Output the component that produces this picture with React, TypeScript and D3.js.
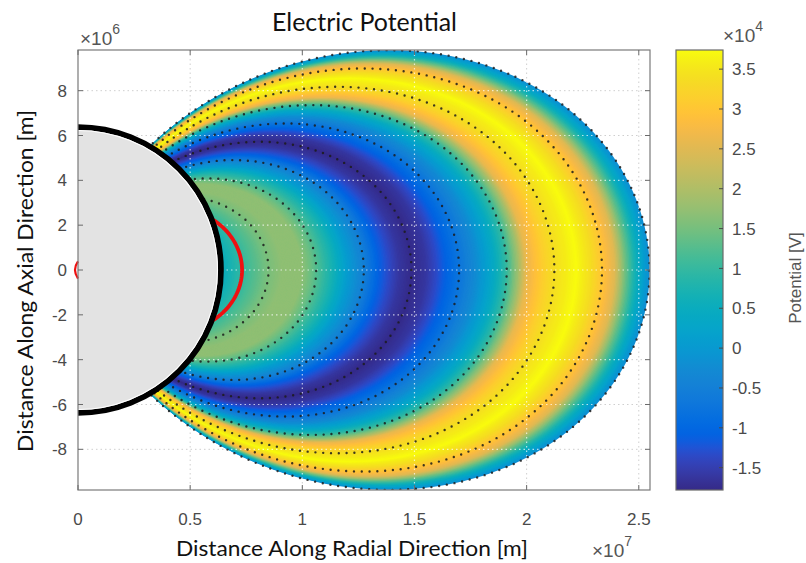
import React from 'react';
import * as d3 from 'd3';

// ---------- data ----------
const RE = 6.371e6; // Earth radius [m]
const xTicks = [0, 0.5, 1, 1.5, 2, 2.5]; // ×1e7 m
const yTicks = [-8, -6, -4, -2, 0, 2, 4, 6, 8]; // ×1e6 m
const cbTicks = [-1.5, -1, -0.5, 0, 0.5, 1, 1.5, 2, 2.5, 3, 3.5]; // ×1e4 V
const xLim = [0, 2.55e7];
const yLim = [-9.815e6, 9.815e6];
const cLim = [-1.78, 3.74]; // ×1e4 V

// potential read along the equator, by dipole L-shell (Earth radii)
const shellL = [1.0, 1.15, 1.32, 1.43, 1.57, 1.65, 1.8, 1.89, 1.99, 2.11, 2.25, 2.34, 2.44, 2.51, 2.65, 2.79, 2.9, 3.0, 3.08, 3.14, 3.25, 3.32, 3.49, 3.6, 3.67, 3.76, 3.83, 3.9, 3.97, 4.0];
const shellPotential = [0.45, 0.98, 1.5, 1.7, 1.7, 1.35, 0.6, 0.05, -0.4, -1.1, -1.6, -1.76, -1.6, -1.35, -0.8, -0.23, 0.32, 0.98, 1.8, 2.6, 3.1, 3.35, 3.74, 3.35, 3.0, 2.5, 1.5, 0.7, 0.05, -0.2];

const outerShell = 4.0; // domain boundary
const contourShells = [4 / 3, 5 / 3, 2, 7 / 3, 8 / 3, 3, 10 / 3, 11 / 3, 4]; // dotted lines
const redShell = 1.148;

// MATLAB parula colormap
const parulaRGB = [
  [0.2081, 0.1663, 0.5292], [0.2116, 0.1898, 0.5777], [0.2123, 0.2138, 0.627], [0.2081, 0.2386, 0.6771],
  [0.1959, 0.2645, 0.7279], [0.1707, 0.2919, 0.7792], [0.1253, 0.3242, 0.8303], [0.0591, 0.3598, 0.8683],
  [0.0117, 0.3875, 0.882], [0.006, 0.4086, 0.8828], [0.0165, 0.4266, 0.8786], [0.0329, 0.443, 0.872],
  [0.0498, 0.4586, 0.8641], [0.0629, 0.4737, 0.8554], [0.0723, 0.4887, 0.8467], [0.0779, 0.504, 0.8384],
  [0.0793, 0.52, 0.8312], [0.0749, 0.5375, 0.8263], [0.0641, 0.557, 0.824], [0.0488, 0.5772, 0.8228],
  [0.0343, 0.5966, 0.8199], [0.0265, 0.6137, 0.8135], [0.0239, 0.6287, 0.8038], [0.0231, 0.6418, 0.7913],
  [0.0228, 0.6535, 0.7768], [0.0267, 0.6642, 0.7607], [0.0384, 0.6743, 0.7436], [0.059, 0.6838, 0.7254],
  [0.0843, 0.6928, 0.7062], [0.1133, 0.7015, 0.6859], [0.1453, 0.7098, 0.6646], [0.1801, 0.7177, 0.6424],
  [0.2178, 0.725, 0.6193], [0.2586, 0.7317, 0.5954], [0.3022, 0.7376, 0.5712], [0.3482, 0.7424, 0.5473],
  [0.3953, 0.7459, 0.5244], [0.442, 0.7481, 0.5033], [0.4871, 0.7491, 0.484], [0.53, 0.7491, 0.4661],
  [0.5709, 0.7485, 0.4494], [0.6099, 0.7473, 0.4337], [0.6473, 0.7456, 0.4188], [0.6834, 0.7435, 0.4044],
  [0.7184, 0.7411, 0.3905], [0.7525, 0.7384, 0.3768], [0.7858, 0.7356, 0.3633], [0.8185, 0.7327, 0.3498],
  [0.8507, 0.7299, 0.336], [0.8824, 0.7274, 0.3217], [0.9139, 0.7258, 0.3063], [0.945, 0.7261, 0.2886],
  [0.9739, 0.7314, 0.2666], [0.9938, 0.7455, 0.2403], [0.999, 0.7653, 0.2164], [0.9955, 0.7861, 0.1967],
  [0.988, 0.8066, 0.1794], [0.9789, 0.8271, 0.1633], [0.9697, 0.8481, 0.1475], [0.9626, 0.8705, 0.1309],
  [0.9589, 0.8949, 0.1132], [0.9598, 0.9218, 0.0948], [0.9661, 0.9514, 0.0755], [0.9763, 0.9831, 0.0538],
];

// ---------- layout ----------
const W = 806, H = 563;
const PL = 78, PR = 650, PT = 50, PB = 490;
const CBL = 676, CBR = 723;
const TICK_FONT = "'Liberation Sans', Arial, Helvetica, sans-serif";
const LABEL_FONT = "Lato, 'Open Sans', sans-serif";

function fieldLine(Lm: number, n = 240): [number, number][] {
  const pts: [number, number][] = [];
  for (let i = 0; i <= n; i++) {
    const lam = -Math.PI / 2 + (Math.PI * i) / n;
    const c = Math.cos(lam);
    pts.push([Lm * c * c * c, Lm * c * c * Math.sin(lam)]);
  }
  return pts;
}

export default function App() {
  const x = d3.scaleLinear().domain(xLim).range([PL, PR]);
  const y = d3.scaleLinear().domain(yLim).range([PB, PT]);
  const cy = d3.scaleLinear().domain(cLim).range([PB, PT]);
  const pot = d3.scaleLinear().domain(shellL).range(shellPotential).clamp(true);
  const norm = d3.scaleLinear().domain(cLim).range([0, 1]).clamp(true);
  const parula = d3
    .scaleLinear<string>()
    .domain(parulaRGB.map((_, i) => i / (parulaRGB.length - 1)))
    .range(parulaRGB.map((c) => d3.rgb(c[0] * 255, c[1] * 255, c[2] * 255).formatHex()))
    .interpolate(d3.interpolateRgb)
    .clamp(true);
  const colorOfL = (L: number) => parula(norm(pot(L)));
  const line = d3
    .line<[number, number]>()
    .x((d) => x(d[0]))
    .y((d) => y(d[1]));

  const bandLs = d3.range(0, 301).map((i) => outerShell - i * 0.01);
  const outerPath = line(fieldLine(outerShell * RE))! + 'Z';

  const cx0 = x(0), cy0 = y(0);
  const rEarth = x(RE) - x(0);

  const xGrid = xTicks.filter((t) => t > 0);
  const yGrid = yTicks;

  const gridLines = (stroke: string, width: number, dash: string, opacity: number) => (
    <g stroke={stroke} strokeWidth={width} strokeDasharray={dash} opacity={opacity}>
      {xGrid.map((t) => (
        <line key={'gx' + t} x1={x(t * 1e7)} x2={x(t * 1e7)} y1={PT} y2={PB} />
      ))}
      {yGrid.map((t) => (
        <line key={'gy' + t} x1={PL} x2={PR} y1={y(t * 1e6)} y2={y(t * 1e6)} />
      ))}
    </g>
  );

  const parulaStops = parulaRGB.map((c, i) => ({
    off: i / (parulaRGB.length - 1),
    col: d3.rgb(c[0] * 255, c[1] * 255, c[2] * 255).formatHex(),
  }));

  return (
    <svg width={W} height={H} style={{ display: 'block', position: 'absolute', left: 0, top: 0, background: '#fff' }}>
      <defs>
        <clipPath id="plotClip">
          <rect x={PL} y={PT} width={PR - PL} height={PB - PT} />
        </clipPath>
        <clipPath id="fieldClip">
          <path d={outerPath} />
        </clipPath>
        <linearGradient id="cbGrad" x1="0" y1="1" x2="0" y2="0">
          {parulaStops.map((s, i) => (
            <stop key={i} offset={s.off} stopColor={s.col} />
          ))}
        </linearGradient>
      </defs>
      <rect x={0} y={0} width={W} height={H} fill="#fff" />

      {/* background grid */}
      {gridLines('#cfcfcf', 1, '1.5 3', 1)}

      <g clipPath="url(#plotClip)">
        {/* potential field, painted shell by shell */}
        {bandLs.map((L) => (
          <path key={L.toFixed(2)} d={line(fieldLine(L * RE))! + 'Z'} fill={colorOfL(L)} stroke="none" />
        ))}
        {/* grid over the field */}
        <g clipPath="url(#fieldClip)">{gridLines('#ffffff', 1.2, '1.5 3', 0.7)}</g>
        {/* dotted field-line contours */}
        <g fill="none" stroke="#1c1c1c" strokeWidth={2.4} strokeLinecap="round" strokeDasharray="0 7.8" opacity={0.85}>
          {contourShells.map((L) => (
            <path key={'c' + L} d={line(fieldLine(L * RE, 600))!} />
          ))}
        </g>
        {/* red field line */}
        <path d={line(fieldLine(redShell * RE))!} fill="none" stroke="#ee1111" strokeWidth={3.8} />
        {/* Earth */}
        <circle cx={cx0} cy={cy0} r={rEarth} fill="#e3e3e3" stroke="#000" strokeWidth={5.8} />
        <circle cx={cx0} cy={cy0} r={rEarth - 3.4} fill="none" stroke="#fff" strokeWidth={1.1} />
      </g>
      {/* small red mark at the left edge */}
      <path
        d={`M${x(0)},${y(0.38e6)} Q${x(0) - 6},${y(0)} ${x(0)},${y(-0.38e6)}`}
        fill="none"
        stroke="#ee1111"
        strokeWidth={2.2}
      />

      {/* axes box and ticks */}
      <rect x={PL} y={PT} width={PR - PL} height={PB - PT} fill="none" stroke="#7a7a7a" strokeWidth={1.2} />
      <g stroke="#6a6a6a" strokeWidth={1}>
        {xTicks.map((t) => (
          <g key={'xt' + t}>
            <line x1={x(t * 1e7)} x2={x(t * 1e7)} y1={PB} y2={PB - 5} />
            <line x1={x(t * 1e7)} x2={x(t * 1e7)} y1={PT} y2={PT + 5} />
          </g>
        ))}
        {yTicks.map((t) => (
          <g key={'yt' + t}>
            <line x1={PL} x2={PL + 5} y1={y(t * 1e6)} y2={y(t * 1e6)} />
            <line x1={PR} x2={PR - 5} y1={y(t * 1e6)} y2={y(t * 1e6)} />
          </g>
        ))}
      </g>
      <g fontFamily={TICK_FONT} fontSize={17} fill="#4a4a4a">
        {xTicks.map((t) => (
          <text key={'xl' + t} x={x(t * 1e7)} y={525} textAnchor="middle">
            {String(t)}
          </text>
        ))}
        {yTicks.map((t) => (
          <text key={'yl' + t} x={67} y={y(t * 1e6)} dy="0.36em" textAnchor="end">
            {String(t)}
          </text>
        ))}
      </g>
      <g fontFamily={TICK_FONT} fill="#555">
        <text x={80} y={45} fontSize={19}>
          ×10<tspan fontSize={14} dy={-11}>6</tspan>
        </text>
        <text x={592} y={557} fontSize={19}>
          ×10<tspan fontSize={14} dy={-11}>7</tspan>
        </text>
        <text x={723} y={42} fontSize={19}>
          ×10<tspan fontSize={14} dy={-11}>4</tspan>
        </text>
      </g>

      {/* colorbar */}
      <rect x={CBL} y={PT} width={CBR - CBL} height={PB - PT} fill="url(#cbGrad)" stroke="#6a6a6a" strokeWidth={1.2} />
      <g stroke="#4a4a4a" strokeWidth={1}>
        {cbTicks.map((t) => (
          <line key={'ct' + t} x1={CBR} x2={CBR - 4} y1={cy(t)} y2={cy(t)} />
        ))}
      </g>
      <g fontFamily={TICK_FONT} fontSize={17} fill="#4a4a4a">
        {cbTicks.map((t) => (
          <text key={'cl' + t} x={732} y={cy(t)} dy="0.36em">
            {String(t)}
          </text>
        ))}
        <text transform={`translate(801,278) rotate(-90)`} textAnchor="middle" fontSize={17} fill="#555">
          Potential [V]
        </text>
      </g>

      {/* titles */}
      <g fontFamily={LABEL_FONT} fill="#111">
        <text x={272} y={31} fontSize={25} textLength={185} lengthAdjust="spacingAndGlyphs">
          Electric Potential
        </text>
        <text x={176} y={556} fontSize={21} textLength={352} lengthAdjust="spacingAndGlyphs">
          Distance Along Radial Direction [m]
        </text>
        <text
          transform={`translate(33,452) rotate(-90)`}
          fontSize={21}
          textLength={342}
          lengthAdjust="spacingAndGlyphs"
        >
          Distance Along Axial Direction [m]
        </text>
      </g>
    </svg>
  );
}
